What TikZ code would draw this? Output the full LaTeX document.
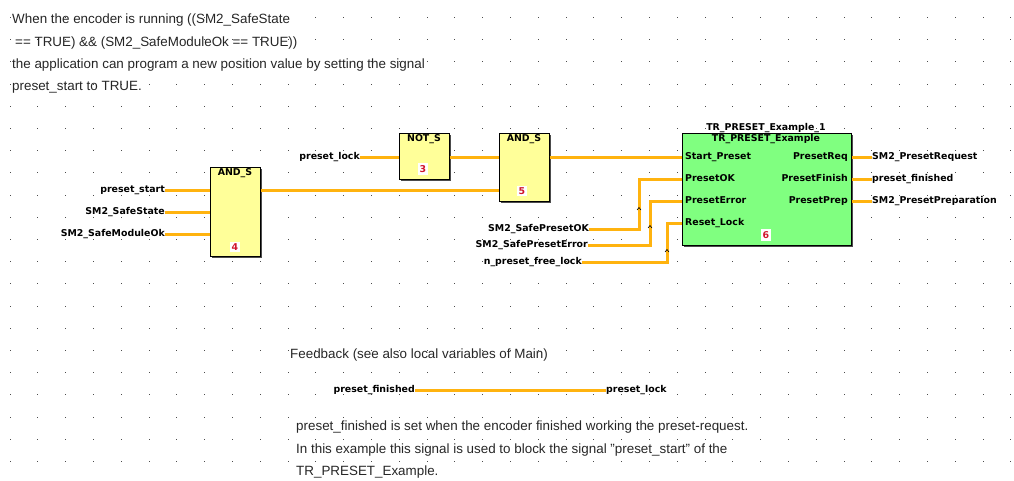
\documentclass[tikz,border=0pt]{standalone}
\usepackage{fontspec}
\setmainfont{Liberation Sans}
\newfontfamily\pinfont{DejaVu Sans}[Scale=0.94]
\usepackage{tikz}
\usetikzlibrary{positioning, shadows}
\definecolor{wirecol}{HTML}{FFB30F}
\definecolor{blockyellow}{HTML}{FFFF99}
\definecolor{blockgreen}{HTML}{80FF80}
\definecolor{numred}{HTML}{D0142C}
\tikzset{
    block/.style={rectangle, draw=black, line width=1pt, inner sep=0pt,
        general shadow={fill=black!70, shadow xshift=1.6pt, shadow yshift=-1.6pt}},
    signal/.style={inner sep=0pt, text height=7pt, text depth=2pt, font=\pinfont\bfseries},
    number/.style={fill=white, inner sep=2pt, text=numred, font=\pinfont\bfseries},
    wire/.style={draw=wirecol, line width=3pt},
    jump/.style={draw=black, line width=0.6pt},
    note/.style={inner sep=0pt, anchor=west, text height=9pt, text depth=2.5pt, font=\fontsize{13.4pt}{15pt}\selectfont, text=black!85}
}
\begin{document}
\begin{tikzpicture}[x=1pt, y=-1pt]
    \useasboundingbox (0, 0) rectangle (1014, 480);
    \foreach \i in {0,...,36} {
        \foreach \j in {0,...,21} {
            \fill [black!70] ({9.5+27.8*\i}, {17+22.2*\j}) rectangle +(0.9, 0.9);
        }
    }

    \node (n1) [note] at (12, 20.5) {When the encoder is running ((SM2\_SafeState};
    \node (n2) [note] at (15, 43) {== TRUE) \&\& (SM2\_SafeModuleOk == TRUE))};
    \node (n3) [note] at (12, 65) {the application can program a new position value by setting the signal};
    \node (n4) [note] at (12, 87) {preset\_start to TRUE.};

    % blocks
    \node (and4) [block, fill=blockyellow, minimum width=50pt, minimum height=89pt] at (235, 211.5) {};
    \node (not3) [block, fill=blockyellow, minimum width=50pt, minimum height=46pt] at (424, 156.5) {};
    \node (and5) [block, fill=blockyellow, minimum width=50pt, minimum height=68pt] at (524, 167.5) {};
    \node (tr6) [block, fill=blockgreen, minimum width=169pt, minimum height=112pt] at (766.5, 189.5) {};

    \node (t4) [signal] at (235, 172.5) {AND\_S};
    \node (t3) [signal] at (424, 139) {NOT\_S};
    \node (t5) [signal] at (524, 139) {AND\_S};
    \node (t6) [signal] at (766, 139) {TR\_PRESET\_Example};
    \node (inst) [signal] at (766, 128) {TR\_PRESET\_Example\_1};

    \node (num4) [number] at (235, 247) {4};
    \node (num3) [number] at (423, 169) {3};
    \node (num5) [number] at (522, 191) {5};
    \node (num6) [number] at (766, 235) {6};

    % pins of the green block
    \node (pstart) [signal, anchor=west] at (685, 157) {Start\_Preset};
    \node (pok) [signal, anchor=west] at (685, 179) {PresetOK};
    \node (perr) [signal, anchor=west] at (685, 201) {PresetError};
    \node (plock) [signal, anchor=west] at (685, 223) {Reset\_Lock};
    \node (preq) [signal, anchor=east] at (848, 157) {PresetReq};
    \node (pfin) [signal, anchor=east] at (848, 179) {PresetFinish};
    \node (pprep) [signal, anchor=east] at (848, 201) {PresetPrep};

    % variables
    \node (vstart) [signal, anchor=east] at (165, 190) {preset\_start};
    \node (vstate) [signal, anchor=east] at (165, 212) {SM2\_SafeState};
    \node (vmod) [signal, anchor=east] at (165, 234) {SM2\_SafeModuleOk};
    \node (vlock) [signal, anchor=east] at (360, 157) {preset\_lock};
    \node (vok) [signal, anchor=east] at (589, 229) {SM2\_SafePresetOK};
    \node (verr) [signal, anchor=east] at (588, 245) {SM2\_SafePresetError};
    \node (vfree) [signal, anchor=east] at (582, 262) {n\_preset\_free\_lock};
    \node (vreq) [signal, anchor=west] at (872, 157) {SM2\_PresetRequest};
    \node (vfin) [signal, anchor=west] at (872, 179) {preset\_finished};
    \node (vprep) [signal, anchor=west] at (872, 201) {SM2\_PresetPreparation};

    \coordinate (bok) at (639, 179);
    \coordinate (berr) at (650, 201);
    \coordinate (bfree) at (667, 223);

    \draw [wire] (vstart.east) -- (vstart -| and4.west);
    \draw [wire] (vstate.east) -- (vstate -| and4.west);
    \draw [wire] (vmod.east) -- (vmod -| and4.west);
    \draw [wire] (vstart -| and4.east) -- (vstart -| and5.west);
    \draw [wire] (vlock.east) -- (vlock -| not3.west);
    \draw [wire] (vlock -| not3.east) -- (vlock -| and5.west);
    \draw [wire] (vlock -| and5.east) -- (pstart -| tr6.west);
    \draw [wire] (vok.east) -| (bok) -- (pok -| tr6.west);
    \draw [wire] (verr.east) -| (berr) -- (perr -| tr6.west);
    \draw [wire] (vfree.east) -| (bfree) -- (plock -| tr6.west);
    \draw [wire] (preq -| tr6.east) -- (vreq.west);
    \draw [wire] (pfin -| tr6.east) -- (vfin.west);
    \draw [wire] (pprep -| tr6.east) -- (vprep.west);

    \draw [jump] (637, 210) -- (639, 207.5) -- (641, 210);
    \draw [jump] (648, 228) -- (650, 225.5) -- (652, 228);
    \draw [jump] (665, 252) -- (667, 249.5) -- (669, 252);

    % feedback
    \node (fb) [note] at (290, 355) {Feedback (see also local variables of Main)};
    \node (ffin) [signal, anchor=east] at (415, 390) {preset\_finished};
    \node (flock) [signal, anchor=west] at (606, 390) {preset\_lock};
    \draw [wire] (ffin.east) -- (flock.west);

    \node (n5) [note] at (296, 427) {preset\_finished is set when the encoder finished working the preset-request.};
    \node (n6) [note] at (296, 450) {In this example this signal is used to block the signal "preset\_start" of the};
    \node (n7) [note] at (296, 472) {TR\_PRESET\_Example.};
\end{tikzpicture}
\end{document}
